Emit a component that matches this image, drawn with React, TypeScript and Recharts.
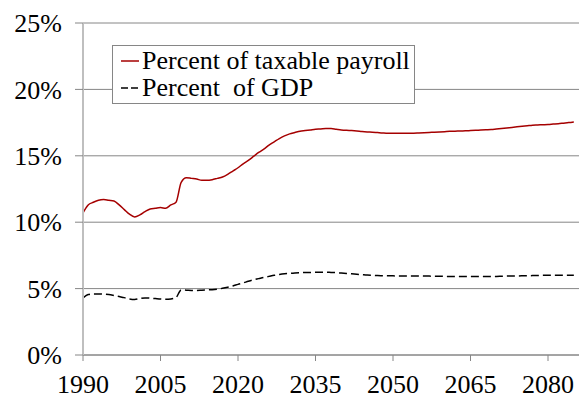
import React from 'react';
import { LineChart, Line, XAxis, YAxis, CartesianGrid } from 'recharts';

const startYear = 1990;

// Percent of taxable payroll, 1990..2085
const payrollPct = [
  10.7, 11.3, 11.5, 11.65, 11.7, 11.65, 11.6, 11.3, 10.95, 10.6,
  10.4, 10.55, 10.8, 11.0, 11.05, 11.1, 11.05, 11.3, 11.5, 13.0,
  13.35, 13.3, 13.25, 13.15, 13.15, 13.2, 13.3, 13.4, 13.6, 13.85,
  14.1, 14.4, 14.65, 14.95, 15.25, 15.5, 15.8, 16.05, 16.3, 16.5,
  16.65, 16.75, 16.85, 16.9, 16.95, 17.0, 17.02, 17.05, 17.05, 17.0,
  16.95, 16.92, 16.9, 16.87, 16.83, 16.8, 16.78, 16.75, 16.72, 16.7,
  16.7, 16.7, 16.7, 16.7, 16.7, 16.72, 16.74, 16.76, 16.78, 16.8,
  16.82, 16.84, 16.85, 16.87, 16.88, 16.9, 16.92, 16.94, 16.96, 16.98,
  17.02, 17.06, 17.1, 17.14, 17.18, 17.22, 17.26, 17.3, 17.32, 17.34,
  17.36, 17.39, 17.42, 17.46, 17.5, 17.55,
];

// Percent of GDP, 1990..2085
const gdpPct = [
  4.3, 4.55, 4.6, 4.6, 4.58, 4.55, 4.48, 4.4, 4.32, 4.22,
  4.18, 4.25, 4.3, 4.28, 4.25, 4.22, 4.2, 4.22, 4.33, 4.9,
  4.88, 4.86, 4.86, 4.88, 4.9, 4.92, 4.96, 5.02, 5.1, 5.2,
  5.32, 5.43, 5.55, 5.66, 5.75, 5.84, 5.92, 6.0, 6.06, 6.11,
  6.15, 6.18, 6.2, 6.21, 6.22, 6.23, 6.24, 6.24, 6.22, 6.2,
  6.17, 6.14, 6.11, 6.08, 6.05, 6.02, 6.0, 5.98, 5.97, 5.96,
  5.96, 5.95, 5.95, 5.95, 5.95, 5.95, 5.94, 5.94, 5.93, 5.93,
  5.92, 5.92, 5.92, 5.92, 5.92, 5.92, 5.92, 5.92, 5.92, 5.92,
  5.92, 5.93, 5.94, 5.95, 5.95, 5.96, 5.97, 5.98, 5.99, 6.0,
  6.0, 6.0, 6.0, 6.0, 6.0, 6.0,
];

const xTicks = [1990, 2005, 2020, 2035, 2050, 2065, 2080];
const yTicks = [0, 5, 10, 15, 20, 25];

const seriesNames = ['Percent of taxable payroll', 'Percent  of GDP'];

const RED = '#a50000';
const GRID = '#868686';
const FONT = '"Times New Roman", Tinos, "Liberation Serif", Times, "DejaVu Serif", serif';

const data = payrollPct.map((v, i) => ({
  year: startYear + i,
  payroll: v,
  gdp: gdpPct[i],
}));

const LegendBox = () => (
  <div
    style={{
      position: 'absolute',
      left: 112,
      top: 45,
      border: `1px solid ${GRID}`,
      background: '#fff',
      width: 303,
      height: 59,
      boxSizing: 'border-box',
      fontFamily: FONT,
      fontSize: 26,
      color: '#000',
      padding: '1px 0 0 8px',
      lineHeight: '27px',
    }}
  >
    <div style={{ display: 'flex', alignItems: 'center', whiteSpace: 'pre' }}>
      <svg width={21} height={10}>
        <line x1={0} y1={5} x2={18} y2={5} stroke={RED} strokeWidth={1.5} />
      </svg>
      <span>{seriesNames[0]}</span>
    </div>
    <div style={{ display: 'flex', alignItems: 'center', whiteSpace: 'pre' }}>
      <svg width={21} height={10}>
        <line x1={0} y1={5} x2={18} y2={5} stroke="#000" strokeWidth={1.5} strokeDasharray="7 3" />
      </svg>
      <span>{seriesNames[1]}</span>
    </div>
  </div>
);

export default function App() {
  return (
    <div style={{ position: 'absolute', left: 0, top: 0, width: 579, height: 404, background: '#fff' }}>
      <LineChart
        width={579}
        height={404}
        data={data}
        margin={{ top: 23, right: 0, bottom: 0, left: 8 }}
      >
        <CartesianGrid vertical={false} stroke={GRID} strokeWidth={1} />
        <XAxis
          dataKey="year"
          type="number"
          domain={[1990, 2086]}
          ticks={xTicks}
          allowDataOverflow
          height={49}
          tickSize={6}
          tickMargin={14}
          axisLine={{ stroke: GRID }}
          tickLine={{ stroke: GRID }}
          tick={{ fill: '#000', fontSize: 26, fontFamily: FONT }}
        />
        <YAxis
          type="number"
          domain={[0, 25]}
          ticks={yTicks}
          width={75}
          tickSize={8}
          tickMargin={13}
          tickFormatter={(v: number) => `${v}%`}
          axisLine={{ stroke: '#bfbfbf', strokeWidth: 2 }}
          tickLine={{ stroke: GRID }}
          tick={{ fill: '#000', fontSize: 26, fontFamily: FONT }}
        />
        <Line
          type="monotone"
          dataKey="payroll"
          stroke={RED}
          strokeWidth={1.5}
          dot={false}
          isAnimationActive={false}
        />
        <Line
          type="monotone"
          dataKey="gdp"
          stroke="#000"
          strokeWidth={1.5}
          strokeDasharray="8 4"
          dot={false}
          isAnimationActive={false}
        />
      </LineChart>
      <LegendBox />
    </div>
  );
}
